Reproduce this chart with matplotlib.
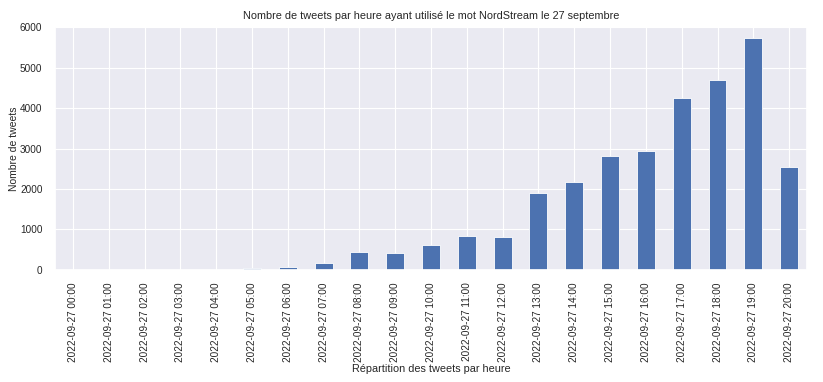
import matplotlib
matplotlib.use('Agg')
import matplotlib.pyplot as plt
import seaborn as sns
import pandas as pd

hours = ['2022-09-27 %02d:00' % h for h in range(21)]
tweets = [0, 0, 0, 0, 8, 45, 70, 180, 440, 415, 625, 845, 805,
          1905, 2180, 2820, 2935, 4240, 4685, 5730, 2555]

sns.set_theme(style='darkgrid', rc={'grid.linewidth': 0.8})
plt.rcParams['font.family'] = ['Liberation Sans', 'DejaVu Sans']

counts = pd.Series(tweets, index=hours)

fig = plt.figure(figsize=(8.23, 3.82), dpi=100)
ax = fig.add_axes([0.0668, 0.2932, 0.9138, 0.6361])
counts.plot(kind='bar', ax=ax, color='#4c72b0', edgecolor='white', linewidth=0.6)

ax.set_ylim(0, 6000)
ax.set_yticks(range(0, 6001, 1000))
ax.tick_params(axis='both', labelsize=7.2, pad=3)
ax.set_title('Nombre de tweets par heure ayant utilisé le mot NordStream le 27 septembre',
             fontsize=7.8, pad=6)
ax.set_ylabel('Nombre de tweets', fontsize=7.5, labelpad=1)
ax.set_xlabel('Répartition des tweets par heure', fontsize=7.8, labelpad=1)

fig.savefig('out.png', dpi=100)
